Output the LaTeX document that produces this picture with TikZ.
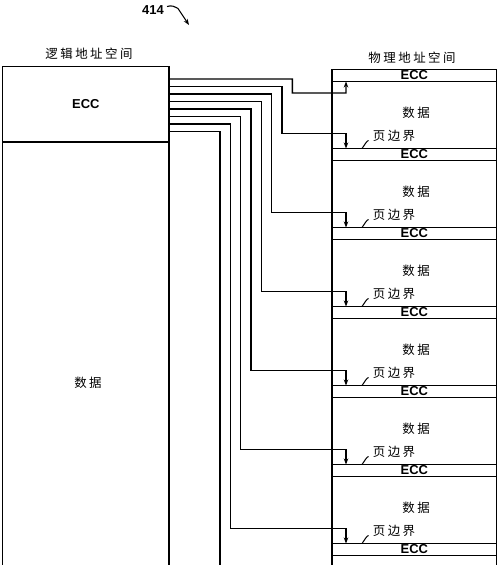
\documentclass[tikz,border=0pt]{standalone}
\usepackage{fontspec}
\setmainfont{Liberation Sans}
\newfontfamily\cjk[LetterSpace=20]{Noto Sans CJK SC}
\usetikzlibrary{arrows.meta,calc}
\begin{document}
\begin{tikzpicture}[x=1bp,y=-1bp,
  box/.style={draw,line width=1.6bp,inner sep=0pt,outer sep=0pt},
  rowbox/.style={draw,line width=1.3bp,inner sep=0pt,outer sep=0pt,minimum width=164.7bp},
  conn/.style={line width=1.4bp},
  arr/.style={-{Stealth[length=6bp,width=4.5bp]}},
  ecctxt/.style={font=\bfseries\fontsize{13}{13}\selectfont},
  cjktxt/.style={font=\cjk\fontsize{12.5}{13}\selectfont,inner sep=0pt},
  leader/.style={line width=1bp}]
\useasboundingbox (0,0) rectangle (500,565);
\clip (0,0) rectangle (500,565);

% figure number
\node[font=\bfseries\fontsize{13}{13}\selectfont,inner sep=0pt] (n414) at (153,10.5) {414};
\draw[line width=1.1bp,arr] ($(n414.east)+(3,-4)$) .. controls +(5,-1.5) and +(-4,-2) .. (178,8.5) -- (189,25);

% titles
\node[cjktxt] (tL) at (89,54) {逻辑地址空间};
\node[cjktxt] (tR) at (412,58) {物理地址空间};

% logical address space
\node[box,minimum width=166.3bp,minimum height=75bp,ecctxt] (eccL) at (85.85,104.2) {ECC};
\node[box,minimum width=166.3bp,minimum height=458.3bp] (datL) at (85.85,370.85) {};
\node[cjktxt] (datLt) at (88,383) {数据};

% physical address space
\foreach \k in {0,...,6}{
  \pgfmathsetmacro{\t}{69.5+79*\k}
  \node[rowbox,minimum height=12bp,ecctxt] (ecc\k) at (414.35,\t+6) {ECC};
  \node[rowbox,minimum height=67bp] (dat\k) at (414.35,\t+45.5) {};
}
\foreach \k in {0,...,5}{
  \node[cjktxt] (dat\k t) at (416,{69.5+79*\k+43.5}) {数据};
}
\foreach \k in {1,...,6}{
  \node[cjktxt] (pb\k) at (394,{69.5+79*\k-13}) {页边界};
  \draw[leader] ($(ecc\k.north west)+(30,0)$) .. controls +(3,-4) and +(-2,0.5) .. ($(ecc\k.north west)+(36.5,-8)$);
}

% connectors
\draw[conn,arr] ($(eccL.north east)+(0,12.3)$) -| (292.3,93) -- (346,93) -- ($(ecc0.south west)+(14,0)$);
\foreach \i in {1,...,6}{
  \draw[conn,arr] ($(eccL.north east)+(0,12.3+7.5*\i)$) -| ($(ecc\i.north west)+({292.3-10.33*\i-332},-15)$)
     -- ($(ecc\i.north west)+(14,-15)$) -- ($(ecc\i.north west)+(14,0)$);
}
\coordinate (off) at (220,600);
\draw[conn] ($(eccL.north east)+(0,12.3+52.5)$) -| (off);
\end{tikzpicture}
\end{document}
